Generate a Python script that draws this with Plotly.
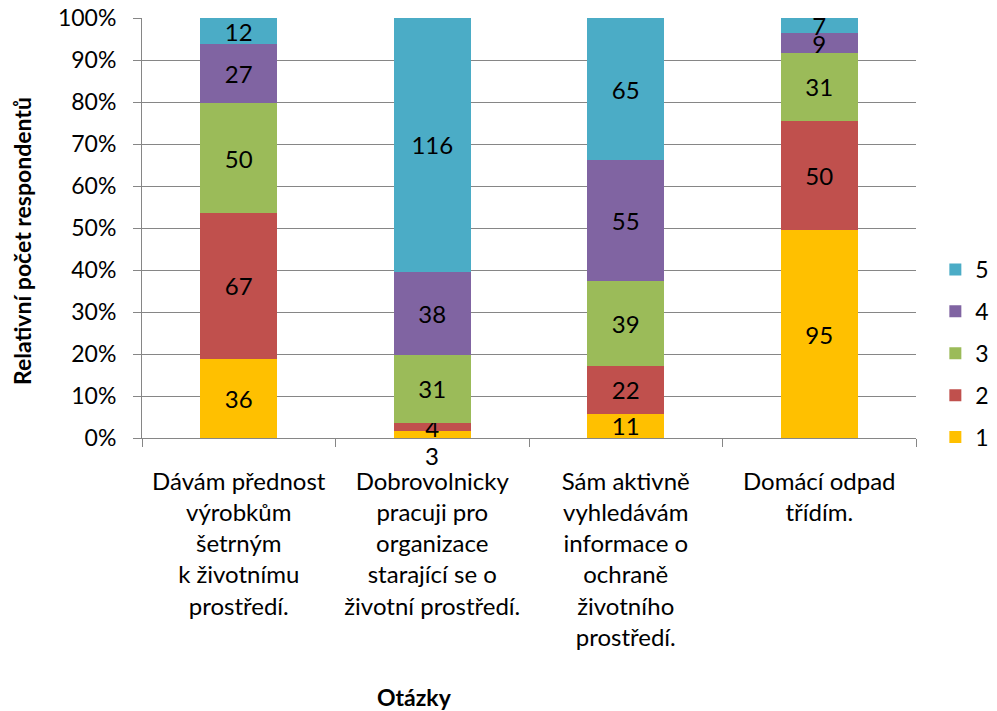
import plotly.graph_objects as go

categories = [
    "Dávám přednost<br>výrobkům<br>šetrným<br>k životnímu<br>prostředí.",
    "Dobrovolnicky<br>pracuji pro<br>organizace<br>starající se o<br>životní prostředí.",
    "Sám aktivně<br>vyhledávám<br>informace o<br>ochraně<br>životního<br>prostředí.",
    "Domácí odpad<br>třídím.",
]
series_names = ["1", "2", "3", "4", "5"]
values = {
    "1": [36, 3, 11, 95],
    "2": [67, 4, 22, 50],
    "3": [50, 31, 39, 31],
    "4": [27, 38, 55, 9],
    "5": [12, 116, 65, 7],
}
colors = {
    "1": "#FFC000",
    "2": "#C0504D",
    "3": "#9BBB59",
    "4": "#8064A2",
    "5": "#4BACC6",
}

FONT = "Lato"
GRID = "#868686"

fig = go.Figure()

for i, name in enumerate(series_names):
    vals = values[name]
    # the tiny "3" (series 1, second question) is drawn under the bar instead
    labels = [str(v) if not (name == "1" and v < 5) else "" for v in vals]
    fig.add_trace(go.Bar(
        x=categories,
        y=vals,
        name=name,
        legendgroup=name,
        legendrank=len(series_names) - i,
        marker=dict(color=colors[name], line=dict(width=0)),
        text=labels,
        texttemplate="%{text}",
        textposition="inside",
        insidetextanchor="middle",
        textangle=0,
        constraintext="none",
        textfont=dict(family=FONT, size=24, color="black"),
        width=0.4,
    ))

# label of the small bottom segment, shown below the axis
for i, v in enumerate(values["1"]):
    if v < 5:
        fig.add_annotation(
            x=categories[i], y=0, yref="y",
            text=str(v), showarrow=False,
            yanchor="top", yshift=-1,
            font=dict(family=FONT, size=24, color="black"),
        )

# axis titles
fig.add_annotation(
    xref="paper", yref="paper", x=-0.155, y=0.469,
    xanchor="center", yanchor="middle",
    text="<b>Relativní počet respondentů</b>", textangle=-90,
    showarrow=False, font=dict(family=FONT, size=23, color="black"),
)
fig.add_annotation(
    xref="paper", yref="paper", x=0.3527, y=-0.617,
    xanchor="center", yanchor="middle",
    text="<b>Otázky</b>",
    showarrow=False, font=dict(family=FONT, size=23, color="black"),
)

# page body adds an 8px offset, so the figure is 8px smaller each way
fig.update_layout(
    barmode="stack",
    barnorm="percent",
    width=989,
    height=703,
    margin=dict(l=134, r=81, t=10, b=273, autoexpand=False),
    plot_bgcolor="white",
    paper_bgcolor="white",
    font=dict(family=FONT, size=23, color="black"),
    showlegend=True,
    legend=dict(
        x=1.025, xanchor="left",
        y=-0.05, yanchor="bottom",
        traceorder="grouped",
        tracegroupgap=9,
        font=dict(family=FONT, size=23),
        itemwidth=30,
    ),
    yaxis=dict(
        range=[0, 100],
        dtick=10,
        ticksuffix="%",
        showgrid=True,
        gridcolor=GRID,
        gridwidth=1,
        showline=True,
        linecolor=GRID,
        ticks="outside",
        ticklen=8,
        tickcolor=GRID,
        tickfont=dict(family=FONT, size=23),
        ticklabelstandoff=12,
        ticklabeloverflow="allow",
        zeroline=False,
        automargin=False,
    ),
    xaxis=dict(
        showline=True,
        linecolor=GRID,
        ticks="outside",
        tickson="boundaries",
        ticklen=8,
        tickcolor=GRID,
        tickfont=dict(family=FONT, size=24),
        tickangle=0,
        ticklabelstandoff=22,
        automargin=False,
    ),
)

fig.write_html("out.html")
